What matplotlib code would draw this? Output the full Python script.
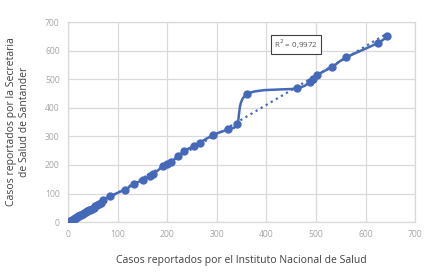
import numpy as np
import matplotlib
matplotlib.use("Agg")
import matplotlib.pyplot as plt
from matplotlib.path import Path
from matplotlib.patches import PathPatch

# Data
ins = [0, 1, 2, 3, 5, 7, 9, 11, 13, 15, 17, 19, 21, 23, 25, 27, 30, 33, 36, 39,
       42, 45, 48, 52, 55, 58, 62, 66, 71, 85, 115, 132, 152, 165, 172, 192, 199,
       208, 222, 234, 253, 266, 293, 323, 341, 361, 461, 488, 494, 503, 533, 561,
       626, 644]
sec = [0, 1, 2, 3, 4, 6, 8, 10, 12, 14, 16, 18, 20, 22, 24, 26, 29, 32, 35, 38,
       41, 44, 47, 51, 55, 59, 65, 68, 77, 91, 114, 132, 149, 161, 168, 196, 202,
       211, 231, 248, 266, 278, 305, 325, 343, 448, 468, 491, 499, 515, 544, 576,
       628, 652]
r2_label = "R$^2$ = 0,9972"
xlabel = "Casos reportados por el Instituto Nacional de Salud"
ylabel = "Casos reportados por la Secretaria\nde Salud de Santander"
ticks = [0, 100, 200, 300, 400, 500, 600, 700]

color = "#4569B9"
plt.rcParams['font.family'] = ['Open Sans', 'DejaVu Sans']

fig = plt.figure(figsize=(4.28, 2.79), dpi=100)
ax = fig.add_axes([0.159, 0.204, 0.811, 0.717])

x = np.array(ins, float)
y = np.array(sec, float)

# Smoothed line (Catmull-Rom -> cubic Bezier), like Excel's smoothed line
pts = np.column_stack([x, y])
verts = [tuple(pts[0])]
codes = [Path.MOVETO]
n = len(pts)
for i in range(n - 1):
    p0 = pts[i - 1] if i > 0 else pts[i]
    p1 = pts[i]
    p2 = pts[i + 1]
    p3 = pts[i + 2] if i + 2 < n else pts[i + 1]
    c1 = p1 + (p2 - p0) / 6.0
    c2 = p2 - (p3 - p1) / 6.0
    verts += [tuple(c1), tuple(c2), tuple(p2)]
    codes += [Path.CURVE4] * 3
ax.add_patch(PathPatch(Path(verts, codes), facecolor='none', edgecolor=color,
                       lw=1.8, zorder=3))
ax.plot(x, y, 'o', color=color, ms=5, zorder=4)

# Linear trendline
a, b = np.polyfit(x, y, 1)
xt = np.array([0, x.max()])
ax.plot(xt, a * xt + b, ':', color=color, lw=1.6, zorder=2)

ax.text(460, 623, r2_label, ha='center', va='center', fontsize=5.8, color='#595959',
        bbox=dict(boxstyle='square,pad=0.35', facecolor='white', edgecolor='#404040', lw=0.8),
        zorder=5)

ax.set_xlim(0, 700)
ax.set_ylim(0, 700)
ax.set_xticks(ticks)
ax.set_yticks(ticks)
ax.grid(True, color='#D9D9D9', lw=0.9)
ax.set_axisbelow(True)
for s in ax.spines.values():
    s.set_color('#D9D9D9')
    s.set_linewidth(0.9)
ax.tick_params(length=0, labelsize=6.2, labelcolor='#A6A6A6', pad=6)
ax.set_xlabel(xlabel, fontsize=7.5, color='#404040', labelpad=11)
ax.set_ylabel(ylabel, fontsize=7.5, color='#404040', labelpad=11)

fig.savefig("out.png", dpi=100)
